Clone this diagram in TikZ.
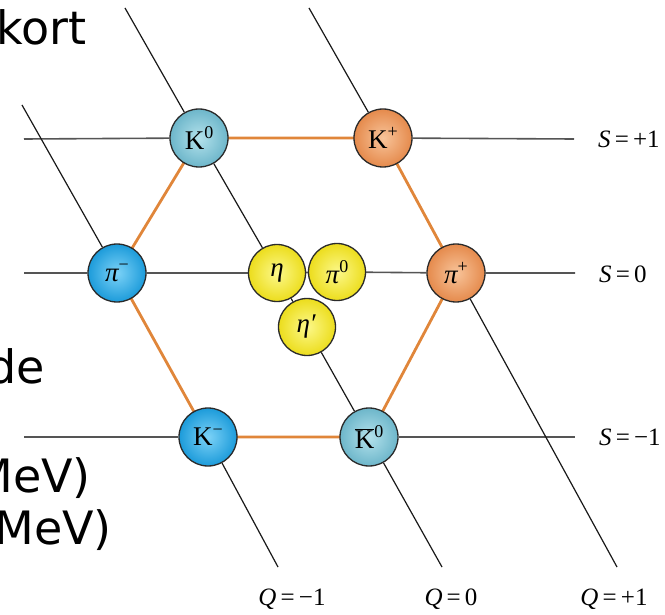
\documentclass[tikz,border=0pt]{standalone}
\usepackage{fontspec}
\setmainfont{Liberation Serif}
\newfontfamily\handfont{DejaVu Sans}
\pgfdeclarelayer{bg}
\pgfsetlayers{bg,main}
\definecolor{hexorange}{HTML}{E0863A}
\definecolor{gridgray}{HTML}{555555}
\definecolor{ballline}{HTML}{2A2A2A}
\definecolor{tealin}{HTML}{B4E2EC}
\definecolor{tealout}{HTML}{6DB6CA}
\definecolor{bluein}{HTML}{7CD2F7}
\definecolor{blueout}{HTML}{1C9BDA}
\definecolor{orangein}{HTML}{F8C49A}
\definecolor{orangeout}{HTML}{E58A4C}
\definecolor{yellowin}{HTML}{FCF88A}
\definecolor{yellowout}{HTML}{ECDD1C}
\newcommand\supr[1]{\raisebox{0.40em}{\fontsize{18}{18}\selectfont #1}}
\tikzset{
  ball/.style={circle, draw=ballline, line width=1.3pt, minimum size=58pt, inner sep=0pt, font=\fontsize{27}{27}\selectfont},
  tealball/.style={ball, inner color=tealin, outer color=tealout},
  blueball/.style={ball, inner color=bluein, outer color=blueout},
  orangeball/.style={ball, inner color=orangein, outer color=orangeout},
  yellowball/.style={ball, minimum size=57pt, inner color=yellowin, outer color=yellowout},
  sline/.style={draw=gridgray, line width=1.6pt},
  qline/.style={draw=black!90, line width=1.2pt},
  hexedge/.style={draw=hexorange, line width=2.8pt},
  axislabel/.style={font=\fontsize{25}{25}\selectfont, inner sep=0pt},
  handtext/.style={font=\handfont\fontsize{46}{46}\selectfont, inner sep=0pt}
}
\begin{document}
\begin{tikzpicture}[x=1pt,y=-1pt]
\useasboundingbox (0,0) rectangle (665,615);
\clip (0,0) rectangle (665,615);
% particles
\node[tealball] (K0) at (199,138) {K\supr{0}};
\node[orangeball] (Kp) at (383,138) {K\supr{+}};
\node[blueball] (pim) at (117,273) {\itshape π\supr{\upshape −}};
\node[orangeball] (pip) at (456,273) {\itshape π\supr{\upshape +}};
\node[yellowball] (eta) at (277,273) {\itshape η};
\node[yellowball] (pi0) at (337,272) {\itshape π\supr{\upshape 0}};
\node[yellowball] (etap) at (307,327) {\itshape η\kern0.05em\upshape ′};
\node[blueball] (Km) at (208,437) {K\supr{−}};
\node[tealball] (K0b) at (369,437) {$\overline{\hbox{K}}$\supr{0}};
% line ends
\coordinate (s1a) at (24,139);  \coordinate (s1b) at (574,139);
\coordinate (s0a) at (24,273);  \coordinate (s0b) at (575,273);
\coordinate (sma) at (24,437);  \coordinate (smb) at (575,437);
\coordinate (qma) at (22,105);  \coordinate (qmb) at (278,567);
\coordinate (q0a) at (125,8);   \coordinate (q0b) at (442,567);
\coordinate (qpa) at (309,8);   \coordinate (qpb) at (617,567);
\begin{pgfonlayer}{bg}
  \draw[sline] (s1a) -- (K0) -- (Kp) -- (s1b);
  \draw[sline] (s0a) -- (pim) -- (eta) -- (pi0) -- (pip) -- (s0b);
  \draw[sline] (sma) -- (Km) -- (K0b) -- (smb);
  \draw[qline] (qma) -- (pim) -- (Km) -- (qmb);
  \draw[qline] (q0a) -- (K0) -- (eta) -- (etap) -- (K0b) -- (q0b);
  \draw[qline] (qpa) -- (Kp) -- (pip) -- (qpb);
  \draw[hexedge] (K0.center) -- (Kp.center) -- (pip.center) -- (K0b.center) -- (Km.center) -- (pim.center) -- cycle;
\end{pgfonlayer}
% axis labels
\node[axislabel, anchor=west] (lS1) at (598,139) {{\itshape S}\,=\,+1};
\node[axislabel, anchor=west] (lS0) at (599,274) {{\itshape S}\,=\,0};
\node[axislabel, anchor=west] (lSm) at (599,437) {{\itshape S}\,=\,−1};
\node[axislabel] (lQm) at (292,599) {{\itshape Q}\,=\,−1};
\node[axislabel] (lQ0) at (451,599) {{\itshape Q}\,=\,0};
\node[axislabel] (lQp) at (614,599) {{\itshape Q}\,=\,+1};
% clipped slide text
\node[handtext, anchor=base west] (t1) at (-4,45) {kort};
\node[handtext, anchor=base east] (t2) at (45,383) {de};
\node[handtext, anchor=base east] (t3) at (91,492) {MeV)};
\node[handtext, anchor=base east] (t4) at (112,544) {MeV)};
\end{tikzpicture}
\end{document}
